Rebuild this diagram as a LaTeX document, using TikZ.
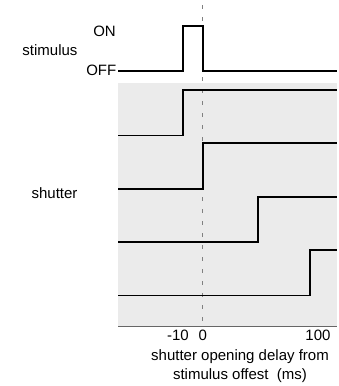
\documentclass[tikz,border=0pt]{standalone}
\usepackage{fontspec}
\setmainfont{Liberation Sans}
\begin{document}
\begin{tikzpicture}[x=1pt, y=-1pt,
	trace/.style = {line width = 1.8pt, line join = miter},
	label/.style = {inner sep = 0pt, font = \fontsize{15}{19}\selectfont}]

	\useasboundingbox (0, 0) rectangle (339, 386);

	% grey panel behind the shutter traces
	\def\panelLeft{118}
	\def\panelRight{337}
	\fill[color = black!8] (\panelLeft, 83) rectangle (\panelRight, 326);
	\draw[color = black!60, line width = 0.8pt] (\panelLeft, 326) -- (\panelRight, 326);

	% stimulus offset at time zero
	\def\zeroX{202.7}
	\draw[color = black!50, line width = 1.4pt, dash pattern = on 4pt off 8pt]
		(\zeroX, 5) -- (\zeroX, 326);

	% stimulus pulse
	\draw[trace] (\panelLeft, 71) -- (183.3, 71) -- (183.3, 25.7)
		-- (\zeroX, 25.7) -- (\zeroX, 71) -- (\panelRight, 71);

	% shutter traces, one per delay: high level / opening time
	\foreach \high/\opening in {90/183.3, 143.3/202.7, 196.7/258.3, 250/310}{
		\draw[trace] (\panelLeft, \high + 45.5) -- (\opening, \high + 45.5)
			-- (\opening, \high) -- (\panelRight, \high);
	}

	% labels on the left
	\node[label, anchor = east] (on) at (116, 31.7) {ON};
	\node[label, anchor = east] (off) at (116.5, 70.5) {OFF};
	\node[label] (stimulus) at (50, 50) {stimulus};
	\node[label] (shutter) at (54.5, 193) {shutter};

	% time axis
	\node[label, anchor = base] (tickA) at (178, 340) {-10};
	\node[label, anchor = base] (tickB) at (\zeroX, 340) {0};
	\node[label, anchor = base] (tickC) at (318, 340) {100};
	\node[label, anchor = base, align = center] (axis) at (240, 379.3)
		{shutter opening delay from\\stimulus offest\ \ (ms)};

\end{tikzpicture}
\end{document}
